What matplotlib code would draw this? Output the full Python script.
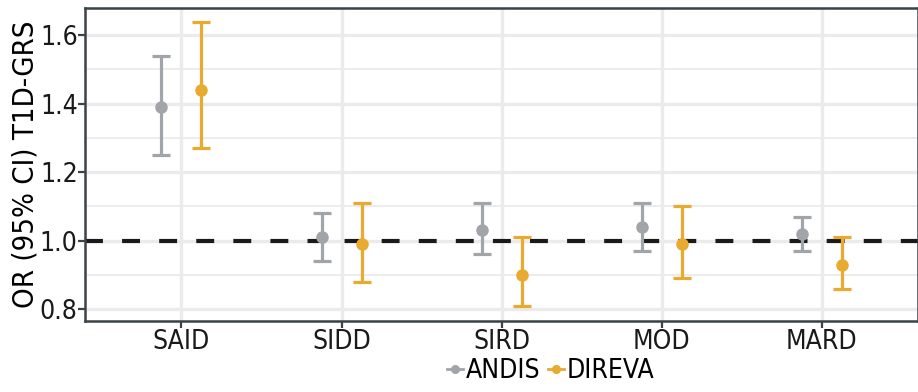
import numpy as np
import matplotlib.pyplot as plt
from matplotlib.lines import Line2D

plt.rcParams['font.family'] = ['DejaVu Sans']
plt.rcParams['font.stretch'] = 'condensed'

subtypes = ['SAID', 'SIDD', 'SIRD', 'MOD', 'MARD']
cohorts = ['ANDIS', 'DIREVA']
colors = ['#a1a5aa', '#e8aa2f']

or_andis = [1.39, 1.01, 1.03, 1.04, 1.02]
lo_andis = [1.25, 0.94, 0.96, 0.97, 0.97]
hi_andis = [1.54, 1.08, 1.11, 1.11, 1.07]

or_direva = [1.44, 0.99, 0.90, 0.99, 0.93]
lo_direva = [1.27, 0.88, 0.81, 0.89, 0.86]
hi_direva = [1.64, 1.11, 1.01, 1.10, 1.01]

est = [or_andis, or_direva]
lows = [lo_andis, lo_direva]
highs = [hi_andis, hi_direva]

fig = plt.figure(figsize=(9.18, 3.92), dpi=100)
ax = fig.add_axes([0.093, 0.181, 0.907, 0.799])

x = np.arange(1, len(subtypes) + 1)
offsets = [-0.125, 0.125]

ax.axhline(1.0, color='#1a1a1a', lw=3, ls=(0, (4.3, 4.6)), zorder=2)

for i in range(len(cohorts)):
    e = np.array(est[i])
    err = [e - np.array(lows[i]), np.array(highs[i]) - e]
    ax.errorbar(x + offsets[i], e, yerr=err, fmt='o', color=colors[i], ms=8,
                elinewidth=2.3, capsize=6.2, capthick=2.3, zorder=3)

ax.set_xlim(0.4, 5.6)
ax.set_ylim(0.765, 1.68)
ax.set_xticks(x)
ax.set_xticklabels(subtypes)
ax.set_yticks([0.8, 1.0, 1.2, 1.4, 1.6])
ax.set_yticklabels(['0.8', '1.0', '1.2', '1.4', '1.6'])
ax.set_yticks(np.arange(0.9, 1.6, 0.2), minor=True)
ax.tick_params(axis='y', which='minor', length=0)
ax.tick_params(axis='both', which='major', labelsize=19, length=5, width=1.6,
               color='#3a4345', labelcolor='#1a1a1a', pad=0.5)
ax.grid(True, which='major', color='#ebebec', lw=2.4, zorder=0)
ax.grid(True, which='minor', axis='y', color='#ebebec', lw=1.3, zorder=0)
ax.set_axisbelow(True)
for s in ax.spines.values():
    s.set_color('#3a4345')
    s.set_linewidth(1.8)

ax.set_ylabel('OR (95% CI) T1D-GRS', fontsize=21, labelpad=0)

handles = [Line2D([0], [0], color=c, marker='o', ms=5.5, lw=2) for c in colors]
fig.legend(handles, cohorts, loc='lower center', ncol=2, frameon=False,
           bbox_to_anchor=(0.6, -0.04), fontsize=19, handlelength=0.6,
           handletextpad=0.1, columnspacing=0.3)

fig.savefig('out.png', dpi=100)
